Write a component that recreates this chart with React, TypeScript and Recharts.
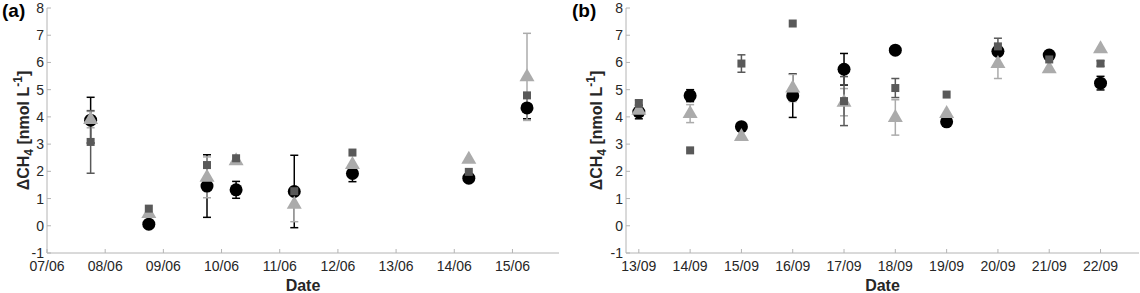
import { ScatterChart, Scatter, XAxis, YAxis, ErrorBar, Label } from 'recharts'

// panel (a): June, x = days after 07/06 00:00
const juneLabels = ['07/06', '08/06', '09/06', '10/06', '11/06', '12/06', '13/06', '14/06', '15/06']
const juneDays = [0.75, 1.75, 2.75, 3.25, 4.25, 5.25, 7.25, 8.25]
const juneCircle = [3.88, 0.06, 1.46, 1.32, 1.26, 1.92, 1.75, 4.33]
const juneCircleErr = [0.84, 0, 1.15, 0.31, 1.33, 0.3, 0, 0.4]
const juneTriangle = [3.9, 0.45, 1.78, 2.39, 0.79, 2.25, 2.44, 5.47]
const juneTriangleErr = [0.3, 0, 0.75, 0, 0.64, 0, 0, 1.6]
const juneSquare = [3.08, 0.63, 2.23, 2.48, 1.27, 2.69, 1.98, 4.79]
const juneSquareErr = [1.15, 0, 0.1, 0, 0, 0, 0, 0]

// panel (b): September, x = days after 13/09
const septLabels = ['13/09', '14/09', '15/09', '16/09', '17/09', '18/09', '19/09', '20/09', '21/09', '22/09']
const septDays = [0, 1, 2, 3, 4, 5, 6, 7, 8, 9]
const septCircle = [4.18, 4.78, 3.64, 4.78, 5.75, 6.45, 3.82, 6.41, 6.27, 5.24]
const septCircleErr = [0.25, 0.22, 0, 0.8, 0.58, 0, 0, 0.1, 0, 0.25]
const septTriangle = [4.24, 4.12, 3.28, 5.06, 4.54, 3.98, 4.12, 5.96, 5.77, 6.5]
const septTriangleErr = [0.1, 0.33, 0, 0.5, 0.5, 0.65, 0, 0.55, 0, 0]
const septSquare = [4.48, 2.77, 5.96, 7.43, 4.58, 5.06, 4.82, 6.59, 6.11, 5.96]
const septSquareErr = [0.15, 0, 0.32, 0, 0.9, 0.35, 0, 0.3, 0, 0.1]

const yTicks = [-1, 0, 1, 2, 3, 4, 5, 6, 7, 8]

const FONT = 'Liberation Sans, Arial, sans-serif'
const AXIS = '#b4b4b4'
const TEXT = '#262626'
const BLACK = '#000000'
const DARK = '#595959'
const LIGHT = '#ababab'

const toRows = (xs: number[], ys: number[], errs: number[]) =>
  xs.map((x, i) => ({ x, y: ys[i], err: errs[i] }))

const circleShape = (p: any) => <circle cx={p.cx} cy={p.cy} r={6.5} fill={BLACK} />
const squareShape = (p: any) => <rect x={p.cx - 4} y={p.cy - 4} width={8} height={8} fill={DARK} />
const triangleShape = (p: any) => (
  <path d={`M${p.cx},${p.cy - 8.5}L${p.cx + 7.5},${p.cy + 4.5}L${p.cx - 7.5},${p.cy + 4.5}Z`} fill={LIGHT} />
)

function YLabel({ viewBox, gap }: any) {
  const cx = viewBox.x + viewBox.width - gap
  const cy = viewBox.y + viewBox.height / 2
  return (
    <text
      x={cx}
      y={cy}
      transform={`rotate(-90 ${cx} ${cy})`}
      textAnchor="middle"
      fontFamily={FONT}
      fontWeight="bold"
      fontSize={16}
      fill={TEXT}
    >
      <tspan>ΔCH</tspan>
      <tspan dy={4} fontSize={12}>4</tspan>
      <tspan dy={-4}> [nmol L</tspan>
      <tspan dy={-7} fontSize={12}>-1</tspan>
      <tspan dy={7}>]</tspan>
    </text>
  )
}

function Panel(props: any) {
  const { tag, labels, days, circle, circleErr, triangle, triangleErr, square, squareErr, domain, yWidth, right, bottom, gap } = props
  const xTicks = labels.map((_: string, i: number) => i)
  const tickStyle = { fill: TEXT, fontSize: 14, fontFamily: FONT }
  return (
    <div style={{ position: 'relative', width: 570, height: 293 }}>
      <ScatterChart width={570} height={293} margin={{ top: 8, right, bottom: 0, left: 0 }}>
        <XAxis
          type="number"
          dataKey="x"
          domain={domain}
          ticks={xTicks}
          allowDataOverflow
          tickFormatter={(v: number) => labels[v]}
          height={bottom}
          tickSize={-4}
          tickMargin={12}
          axisLine={{ stroke: AXIS }}
          tickLine={{ stroke: AXIS }}
          tick={tickStyle}
          interval={0}
        >
          <Label value="Date" position="insideBottom" offset={2} fontFamily={FONT} fontWeight="bold" fontSize={16} fill={TEXT} />
        </XAxis>
        <XAxis
          xAxisId="top"
          orientation="top"
          type="number"
          dataKey="x"
          domain={domain}
          ticks={xTicks}
          allowDataOverflow
          height={0}
          tickSize={-4}
          axisLine={{ stroke: AXIS }}
          tickLine={{ stroke: AXIS }}
          tick={false}
        />
        <YAxis
          type="number"
          dataKey="y"
          domain={[-1, 8]}
          ticks={yTicks}
          allowDataOverflow
          width={yWidth}
          tickSize={-4}
          tickMargin={7}
          axisLine={{ stroke: AXIS }}
          tickLine={{ stroke: AXIS }}
          tick={tickStyle}
          interval={0}
        >
          <Label content={(lp: any) => <YLabel viewBox={lp.viewBox} gap={gap} />} />
        </YAxis>
        <YAxis
          yAxisId="right"
          orientation="right"
          type="number"
          dataKey="y"
          domain={[-1, 8]}
          ticks={yTicks}
          allowDataOverflow
          width={0}
          tickSize={-4}
          axisLine={{ stroke: AXIS }}
          tickLine={{ stroke: AXIS }}
          tick={false}
        />
        <Scatter data={toRows(days, circle, circleErr)} shape={circleShape} isAnimationActive={false}>
          <ErrorBar dataKey="err" direction="y" width={4} stroke={BLACK} strokeWidth={1.5} />
        </Scatter>
        <Scatter data={toRows(days, triangle, triangleErr)} shape={triangleShape} isAnimationActive={false}>
          <ErrorBar dataKey="err" direction="y" width={4} stroke={LIGHT} strokeWidth={1.5} />
        </Scatter>
        <Scatter data={toRows(days, square, squareErr)} shape={squareShape} isAnimationActive={false}>
          <ErrorBar dataKey="err" direction="y" width={4} stroke={DARK} strokeWidth={1.5} />
        </Scatter>
      </ScatterChart>
      <div
        style={{
          position: 'absolute',
          left: 2,
          top: 0,
          fontFamily: FONT,
          fontWeight: 'bold',
          fontSize: 19,
          color: '#000',
          lineHeight: '22px',
        }}
      >
        {tag}
      </div>
    </div>
  )
}

export default function App() {
  return (
    <div style={{ position: 'absolute', left: 0, top: 0, width: 1140, height: 293, display: 'flex', background: '#fff' }}>
      <Panel
        tag="(a)"
        labels={juneLabels}
        days={juneDays}
        circle={juneCircle}
        circleErr={juneCircleErr}
        triangle={juneTriangle}
        triangleErr={juneTriangleErr}
        square={juneSquare}
        squareErr={juneSquareErr}
        domain={[0, 8.8]}
        yWidth={47}
        right={11}
        bottom={40}
        gap={18}
      />
      <Panel
        tag="(b)"
        labels={septLabels}
        days={septDays}
        circle={septCircle}
        circleErr={septCircleErr}
        triangle={septTriangle}
        triangleErr={septTriangleErr}
        square={septSquare}
        squareErr={septSquareErr}
        domain={[-0.25, 9.75]}
        yWidth={56}
        right={1}
        bottom={40}
        gap={24}
      />
    </div>
  )
}
